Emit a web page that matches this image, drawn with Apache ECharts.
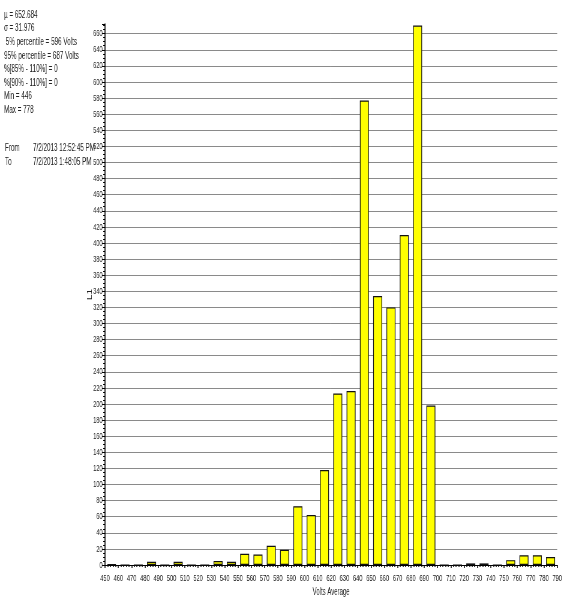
<!DOCTYPE html>
<html>
<head>
<meta charset="utf-8">
<script src="https://cdn.jsdelivr.net/npm/echarts@6/dist/echarts.min.js"></script>
<style>
  html, body { margin: 0; padding: 0; background: #fff; overflow: hidden; }
  /* the chart is laid out wide and squeezed horizontally into a 562px frame */
  #frame { width: 562px; height: 597px; overflow: hidden; position: relative; }
  #chart { width: 937px; height: 597px; transform: scaleX(0.6); transform-origin: 0 0; position: absolute; left: 0; top: 0; }
</style>
</head>
<body>
<div id="frame"><div id="chart"></div></div>
<script>
// Histogram of L1 volts (10 V bins)
const binStarts = [450, 460, 470, 480, 490, 500, 510, 520, 530, 540, 550, 560, 570, 580, 590, 600, 610,
  620, 630, 640, 650, 660, 670, 680, 690, 700, 710, 720, 730, 740, 750, 760, 770, 780];
const counts = [1, 0, 0, 4, 0, 4, 0, 0, 5, 4, 14, 13, 24, 19, 73, 62, 118,
  213, 216, 577, 334, 320, 410, 670, 198, 0, 0, 2, 2, 0, 6, 12, 12, 10];
const binWidth = 10;

const statsLines = [
  'µ = 652.684',
  'σ = 31.976',
  ' 5% percentile = 596 Volts',
  '95% percentile = 687 Volts',
  '%[85% - 110%] = 0',
  '%[90% - 110%] = 0',
  'Min = 446',
  'Max = 778'
];
const rangeLines = [
  ['From', '7/2/2013 12:52:45 PM'],
  ['To', '7/2/2013 1:48:05 PM']
];

const FONT = "'Liberation Sans', Arial, sans-serif";
const SX = 0.6; // horizontal squeeze applied by the CSS transform

const chart = echarts.init(document.getElementById('chart'), null, { renderer: 'canvas', width: 937, height: 597 });

const graphics = [];
statsLines.forEach((t, i) => {
  graphics.push({
    type: 'text', left: 4 / SX, top: 9.5 + i * 13.6,
    style: { text: t, font: '10.5px ' + FONT, fill: '#222' }
  });
});
rangeLines.forEach((r, i) => {
  graphics.push({
    type: 'text', left: 5 / SX, top: 143 + i * 14,
    style: { text: r[0], font: '10.5px ' + FONT, fill: '#222' }
  });
  graphics.push({
    type: 'text', left: 33 / SX, top: 143 + i * 14,
    style: { text: r[1], font: '10.5px ' + FONT, fill: '#222' }
  });
});

chart.setOption({
  animation: false,
  backgroundColor: '#fff',
  grid: { left: 105 / SX, right: 5 / SX, top: 24, bottom: 32, containLabel: false, outerBoundsMode: 'none' },
  graphic: graphics,
  xAxis: {
    type: 'value',
    min: 450, max: 790, interval: 10,
    name: 'Volts Average',
    nameLocation: 'middle',
    nameGap: 22,
    nameMoveOverlap: false,
    nameTextStyle: { fontFamily: FONT, fontSize: 10, color: '#222' },
    axisLine: { show: true, onZero: false, lineStyle: { color: '#000', width: 1 } },
    axisTick: { show: true, length: 3, lineStyle: { color: '#000', width: 1.5 } },
    minorTick: { show: true, splitNumber: 5, length: 2, lineStyle: { color: '#000', width: 1.5 } },
    axisLabel: { fontFamily: FONT, fontSize: 9.5, color: '#222', margin: 8, showMinLabel: true, showMaxLabel: true },
    splitLine: { show: false }
  },
  yAxis: {
    type: 'value',
    min: 0, max: 672, interval: 20,
    name: 'L1',
    nameLocation: 'middle',
    nameGap: 20,
    nameMoveOverlap: false,
    nameRotate: 90,
    nameTextStyle: { fontFamily: FONT, fontSize: 10, color: '#222' },
    axisLine: { show: true, lineStyle: { color: '#000', width: 1.6 } },
    axisTick: { show: true, length: 5, lineStyle: { color: '#000' } },
    minorTick: { show: true, splitNumber: 4, length: 3, lineStyle: { color: '#000' } },
    axisLabel: { fontFamily: FONT, fontSize: 9.5, color: '#222', margin: 4, showMaxLabel: false },
    splitLine: { show: true, showMaxLine: false, showMinLine: false, lineStyle: { color: '#8a8a8a', width: 1 } }
  },
  series: [{
    type: 'bar',
    barWidth: 9 / SX,
    data: binStarts.map((s, i) => [s + binWidth / 2, counts[i]]),
    itemStyle: { color: '#ffff00', borderColor: '#111', borderWidth: 1.2 }
  }]
});
</script>
</body>
</html>
